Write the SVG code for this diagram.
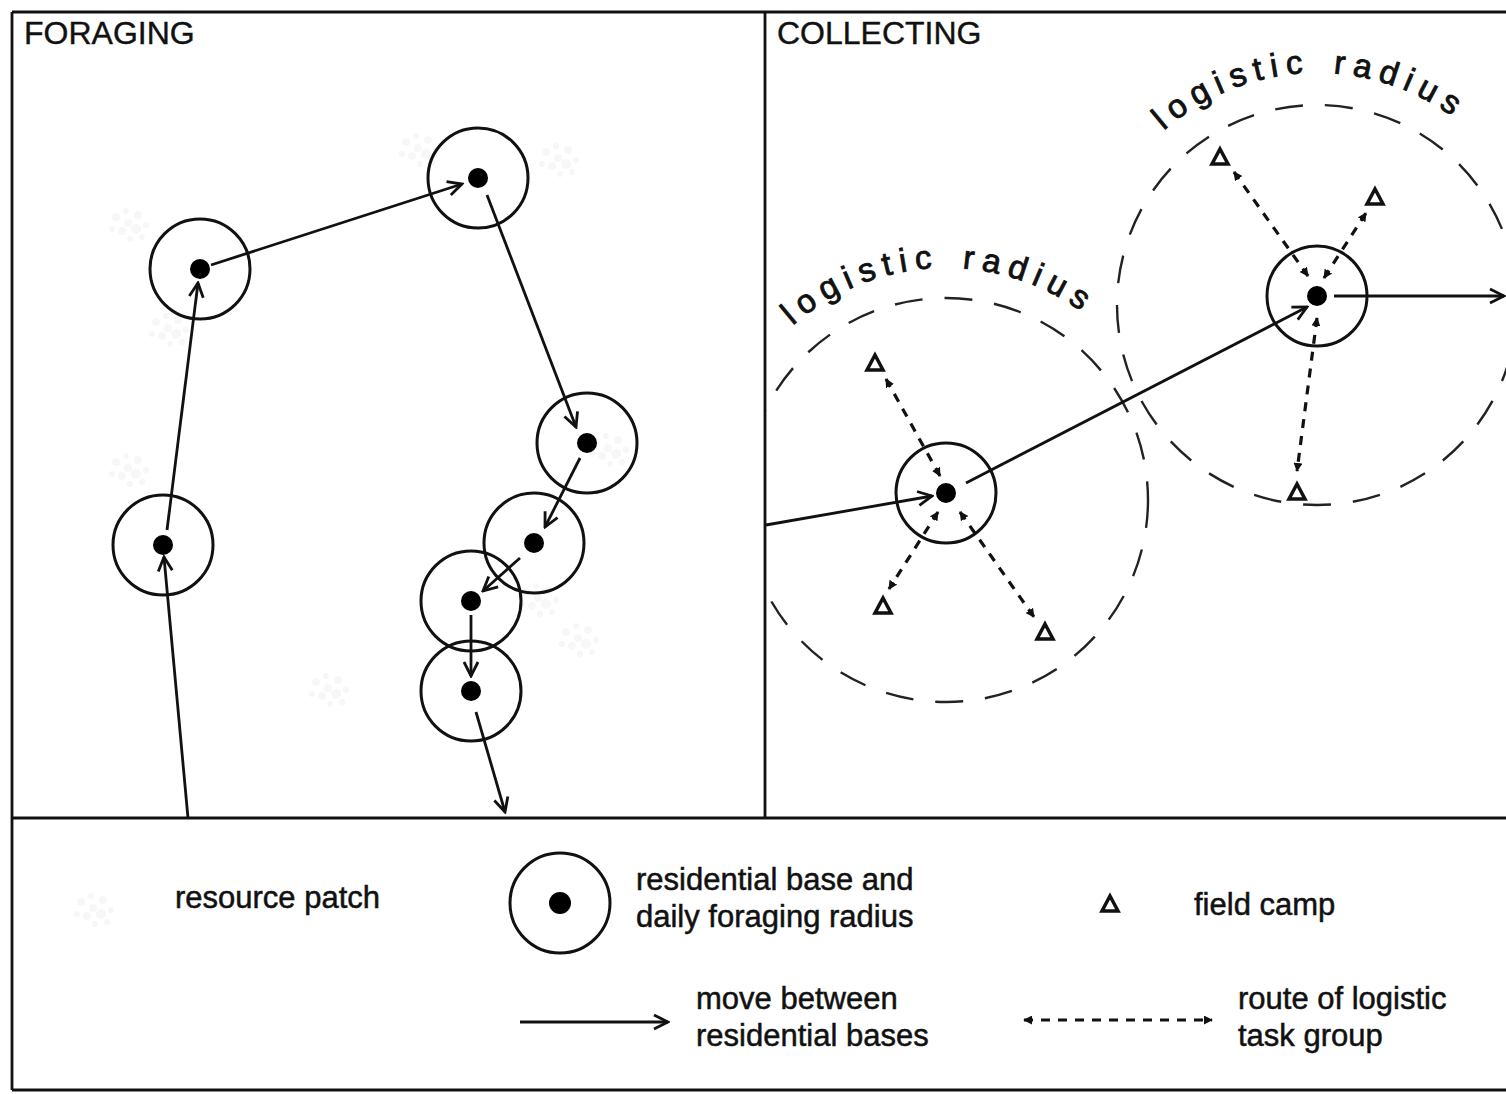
<svg xmlns="http://www.w3.org/2000/svg" xmlns:xlink="http://www.w3.org/1999/xlink" width="1506" height="1094" viewBox="0 0 1506 1094">
<style>
  .frame{stroke:#111;stroke-width:2.8;fill:none}
  .base{fill:none;stroke:#111;stroke-width:3}
  .dot{fill:#000}
  .move{stroke:#111;stroke-width:2.8;fill:none;marker-end:url(#chev)}
  .route{stroke:#111;stroke-width:3.2;fill:none;stroke-dasharray:9 8;marker-start:url(#small);marker-end:url(#small)}
  .radius{fill:none;stroke:#222;stroke-width:2.4;stroke-dasharray:28 22}
  .camp{fill:none;stroke:#111;stroke-width:3.5;stroke-linejoin:miter}
  .title{font-family:"Liberation Sans",Arial,sans-serif;font-size:32px;fill:#111;stroke:#111;stroke-width:0.4}
  .lbl{font-family:"Liberation Sans",Arial,sans-serif;font-size:31px;fill:#111;stroke:#111;stroke-width:0.5}
  .arc{font-family:"Liberation Sans",Arial,sans-serif;font-size:33px;fill:#111;stroke:#111;stroke-width:0.9;letter-spacing:7.5px;word-spacing:6px}
  .patch circle{fill:#999;opacity:0.08}
</style>
<defs>
  <marker id="chev" viewBox="0 0 18 18" refX="16" refY="9" markerWidth="18" markerHeight="18" markerUnits="userSpaceOnUse" orient="auto">
    <path d="M2,2 L16,9 L2,16" fill="none" stroke="#111" stroke-width="2.8"/>
  </marker>
  <marker id="small" viewBox="0 0 10 10" refX="9" refY="5" markerWidth="9" markerHeight="9" markerUnits="userSpaceOnUse" orient="auto-start-reverse">
    <path d="M0,0 L10,5 L0,10 Z" fill="#111"/>
  </marker>
  <path id="tri" d="M0,-9 L8,6 L-8,6 Z"/>
  <g id="patchShape" class="patch">
    <circle cx="-14" cy="-8" r="4"/><circle cx="-4" cy="-14" r="3"/><circle cx="8" cy="-10" r="4"/>
    <circle cx="16" cy="0" r="3"/><circle cx="6" cy="4" r="5"/><circle cx="-8" cy="6" r="4"/>
    <circle cx="-18" cy="4" r="3"/><circle cx="0" cy="14" r="3"/><circle cx="12" cy="12" r="3"/>
    <circle cx="-2" cy="-2" r="4"/>
  </g>
  <clipPath id="collectClip"><rect x="766" y="13" width="740" height="804"/></clipPath>
  <path id="arcL" d="M741.1,391.1 A232,232 0 0,1 1142.8,377.1"/>
  <path id="arcR" d="M1112.1,196.1 A232,232 0 0,1 1513.8,182.1"/>
</defs>

<g id="frame">
  <line class="frame" x1="12" y1="12" x2="1506" y2="12"/>
  <line class="frame" x1="12" y1="12" x2="12" y2="1090"/>
  <line class="frame" x1="12" y1="1090" x2="1506" y2="1090"/>
  <line class="frame" x1="12" y1="818" x2="1506" y2="818"/>
  <line class="frame" x1="765" y1="12" x2="765" y2="818"/>
  <text class="title" x="24" y="44">FORAGING</text>
  <text class="title" x="777" y="44">COLLECTING</text>
</g>

<g id="resource-patches">
  <use xlink:href="#patchShape" x="130" y="225"/>
  <use xlink:href="#patchShape" x="170" y="330"/>
  <use xlink:href="#patchShape" x="130" y="470"/>
  <use xlink:href="#patchShape" x="420" y="150"/>
  <use xlink:href="#patchShape" x="560" y="160"/>
  <use xlink:href="#patchShape" x="610" y="450"/>
  <use xlink:href="#patchShape" x="540" y="600"/>
  <use xlink:href="#patchShape" x="330" y="690"/>
  <use xlink:href="#patchShape" x="580" y="640"/>
</g>

<!-- Foraging nodes -->
<g id="f1"><circle class="base" cx="163" cy="545" r="50"/><circle class="dot" cx="163" cy="545" r="10"/></g>
<g id="f2"><circle class="base" cx="200" cy="269" r="50"/><circle class="dot" cx="200" cy="269" r="10"/></g>
<g id="f3"><circle class="base" cx="478" cy="178" r="50"/><circle class="dot" cx="478" cy="178" r="10"/></g>
<g id="f4"><circle class="base" cx="587" cy="443" r="50"/><circle class="dot" cx="587" cy="443" r="10"/></g>
<g id="f5"><circle class="base" cx="534" cy="543" r="50"/><circle class="dot" cx="534" cy="543" r="10"/></g>
<g id="f6"><circle class="base" cx="471" cy="601" r="50"/><circle class="dot" cx="471" cy="601" r="10"/></g>
<g id="f7"><circle class="base" cx="471" cy="691" r="50"/><circle class="dot" cx="471" cy="691" r="10"/></g>

<!-- Collecting nodes -->
<g id="c1">
  <circle class="radius" cx="946" cy="500" r="202" clip-path="url(#collectClip)"/>
  <text class="arc"><textPath xlink:href="#arcL" startOffset="50%" text-anchor="middle">logistic radius</textPath></text>
  <circle class="base" cx="946" cy="493" r="50"/><circle class="dot" cx="946" cy="493" r="10"/>
</g>
<g id="c2">
  <circle class="radius" cx="1317" cy="305" r="200" clip-path="url(#collectClip)"/>
  <text class="arc"><textPath xlink:href="#arcR" startOffset="50%" text-anchor="middle">logistic radius</textPath></text>
  <circle class="base" cx="1317" cy="296" r="50"/><circle class="dot" cx="1317" cy="296" r="10"/>
</g>
<g id="camps">
  <use class="camp" xlink:href="#tri" x="875" y="364"/>
  <use class="camp" xlink:href="#tri" x="883" y="607"/>
  <use class="camp" xlink:href="#tri" x="1045" y="633"/>
  <use class="camp" xlink:href="#tri" x="1220" y="158"/>
  <use class="camp" xlink:href="#tri" x="1375" y="198"/>
  <use class="camp" xlink:href="#tri" x="1297" y="493"/>
</g>

<g id="connectors">
  <line class="move" x1="188" y1="818" x2="164" y2="557"/>
  <line class="move" x1="167" y1="530" x2="198" y2="283"/>
  <line class="move" x1="211" y1="265" x2="462" y2="184"/>
  <line class="move" x1="487" y1="195" x2="576" y2="427"/>
  <line class="move" x1="580" y1="458" x2="545" y2="527"/>
  <line class="move" x1="520" y1="558" x2="483" y2="591"/>
  <line class="move" x1="471" y1="615" x2="471" y2="676"/>
  <line class="move" x1="476" y1="712" x2="505" y2="812"/>

  <line class="move" x1="766" y1="525" x2="932" y2="496"/>
  <line class="move" x1="966" y1="483" x2="1307" y2="307"/>
  <line class="move" x1="1334" y1="296" x2="1504" y2="296"/>

  <line class="route" x1="940" y1="476" x2="886" y2="379"/>
  <line class="route" x1="938" y1="512" x2="889" y2="589"/>
  <line class="route" x1="960" y1="512" x2="1034" y2="617"/>
  <line class="route" x1="1308" y1="276" x2="1234" y2="172"/>
  <line class="route" x1="1324" y1="278" x2="1366" y2="213"/>
  <line class="route" x1="1317" y1="318" x2="1297" y2="471"/>
</g>

<g id="legend">
  <use xlink:href="#patchShape" x="95" y="910"/>
  <text class="lbl" x="175" y="908">resource patch</text>
  <circle class="base" cx="560" cy="903" r="50"/><circle class="dot" cx="560" cy="903" r="11"/>
  <text class="lbl" x="636" y="890">residential base and</text>
  <text class="lbl" x="636" y="927">daily foraging radius</text>
  <use class="camp" xlink:href="#tri" x="1110" y="905"/>
  <text class="lbl" x="1194" y="915">field camp</text>
  <line class="move" x1="520" y1="1022" x2="668" y2="1022"/>
  <text class="lbl" x="696" y="1009">move between</text>
  <text class="lbl" x="696" y="1046">residential bases</text>
  <line class="route" x1="1024" y1="1020" x2="1212" y2="1020"/>
  <text class="lbl" x="1238" y="1009">route of logistic</text>
  <text class="lbl" x="1238" y="1046">task group</text>
</g>
</svg>
